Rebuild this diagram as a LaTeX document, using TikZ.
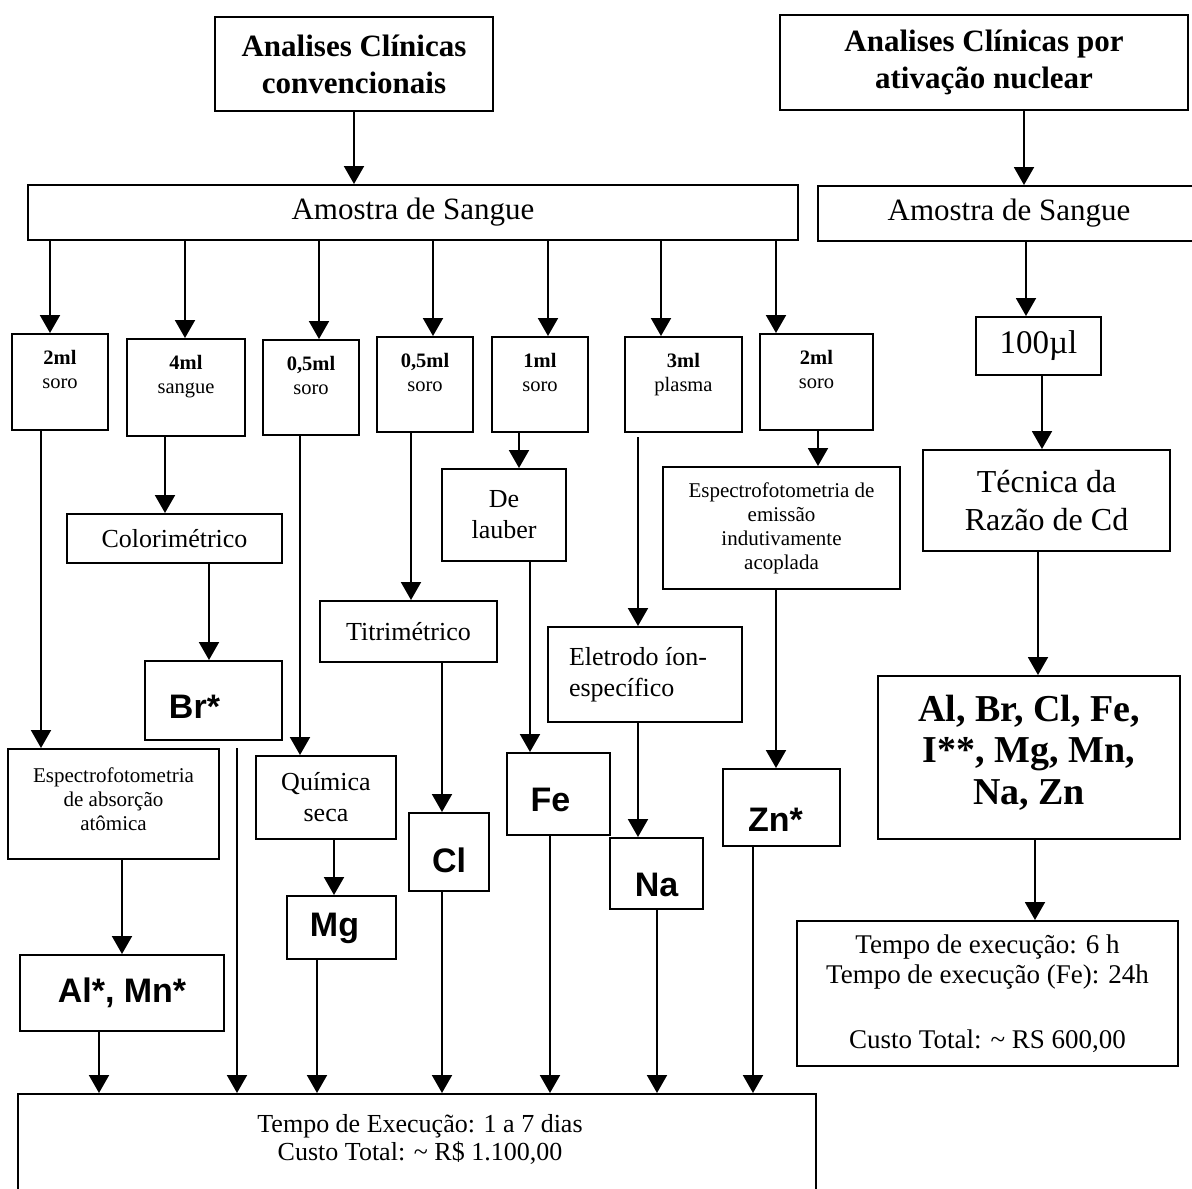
\documentclass[tikz,border=0pt]{standalone}
\usepackage{fontspec}
\setmainfont{Liberation Serif}
\setsansfont{Liberation Sans}
\usetikzlibrary{arrows.meta,calc}
\newcommand\fsz[2]{\fontsize{#1}{#2}\selectfont}
\begin{document}
\begin{tikzpicture}[x=1pt,y=-1pt,
  box/.style={draw, line width=2pt, inner sep=0pt, align=center},
  arr/.style={line width=2pt, -{Triangle[width=20pt,length=18pt]}},
  title/.style={font=\fsz{31}{37}\bfseries},
  big/.style={font=\fsz{31}{38}},
  med/.style={font=\fsz{26}{31}},
  small/.style={font=\fsz{21}{24}},
  elem/.style={font=\fsz{34}{40}\sffamily\bfseries, inner sep=0pt},
  vol/.style={font=\fsz{20.5}{24}, align=center, anchor=north, inner sep=0pt, yshift=-17pt},
  txt/.style={align=center, inner sep=0pt},
]
\useasboundingbox (0,0) rectangle (1192,1189);

% ---- headers and blood samples
\node[box, title, minimum width=278pt, minimum height=94pt] (A1) at (354,64) {Analises Clínicas\\convencionais};
\node[box, title, minimum width=408pt, minimum height=95pt] (N1) at (984,62.5) {Analises Clínicas por\\ativação nuclear};
\node[box, big, minimum width=770pt, minimum height=55pt] (SA) at (413,212.5) {Amostra de Sangue};
\node[box, big, minimum width=382pt, minimum height=55pt] (SB) at (1009,213.5) {Amostra de Sangue};

% ---- sample volumes
\node[box, minimum width=96pt,  minimum height=96pt, label={[vol]north:{\textbf{2ml}\\soro}}]     (s1) at (60,382) {};
\node[box, minimum width=118pt, minimum height=97pt, label={[vol]north:{\textbf{4ml}\\sangue}}]   (s2) at (186,387.5) {};
\node[box, minimum width=96pt,  minimum height=95pt, label={[vol]north:{\textbf{0,5ml}\\soro}}]   (s3) at (311,387.5) {};
\node[box, minimum width=96pt,  minimum height=95pt, label={[vol]north:{\textbf{0,5ml}\\soro}}]   (s4) at (425,384.5) {};
\node[box, minimum width=96pt,  minimum height=95pt, label={[vol]north:{\textbf{1ml}\\soro}}]     (s5) at (540,384.5) {};
\node[box, minimum width=117pt, minimum height=95pt, label={[vol]north:{\textbf{3ml}\\plasma}}]   (s6) at (683.5,384.5) {};
\node[box, minimum width=113pt, minimum height=96pt, label={[vol]north:{\textbf{2ml}\\soro}}]     (s7) at (816.5,382) {};

% ---- methods
\node[box, minimum width=211pt, minimum height=110pt, label={[txt, small, yshift=5pt]center:{Espectrofotometria\\de absorção\\atômica}}] (EAA) at (113.5,804) {};
\node[box, med, minimum width=215pt, minimum height=49pt] (Col) at (174.5,538.5) {Colorimétrico};
\node[box, med, minimum width=140pt, minimum height=83pt] (Quim) at (326,797.5) {Química\\seca};
\node[box, med, minimum width=177pt, minimum height=61pt] (Titr) at (408.5,631.5) {Titrimétrico};
\node[box, med, minimum width=124pt, minimum height=92pt] (Lau) at (504,515) {De\\lauber};
\node[box, minimum width=194pt, minimum height=95pt, label={[txt, med, align=left, xshift=-7pt]center:{Eletrodo íon-\\específico}}] (Elet) at (645,674.5) {};
\node[box, small, minimum width=237pt, minimum height=122pt] (EEI) at (781.5,528) {Espectrofotometria de\\emissão\\indutivamente\\acoplada};

% ---- elements
\node[box, minimum width=204pt, minimum height=76pt, label={[elem]center:{Al*, Mn*}}] (AlMn) at (122,993) {};
\node[box, minimum width=137pt, minimum height=79pt, label={[elem, xshift=-19pt, yshift=-6pt]center:{Br*}}] (Br) at (213.5,700.5) {};
\node[box, minimum width=109pt, minimum height=63pt, label={[elem, xshift=-7pt, yshift=-1pt]center:{Mg}}] (Mg) at (341.5,927.5) {};
\node[box, minimum width=80pt,  minimum height=78pt, label={[elem, yshift=-8pt]center:{Cl}}] (Cl) at (449,852) {};
\node[box, minimum width=103pt, minimum height=82pt, label={[elem, xshift=-8pt, yshift=-6pt]center:{Fe}}] (Fe) at (558.5,794) {};
\node[box, minimum width=93pt,  minimum height=71pt, label={[elem, yshift=-11pt]center:{Na}}] (Na) at (656.5,873.5) {};
\node[box, minimum width=117pt, minimum height=77pt, label={[elem, xshift=-6pt, yshift=-12pt]center:{Zn*}}] (Zn) at (781.5,807.5) {};

% ---- totals of the conventional route (box runs off the lower edge)
\node[box, minimum width=798pt, minimum height=130pt,
  label={[txt, font=\fsz{26}{28}, xshift=3pt, yshift=20pt]center:{Tempo de Execução: 1 a 7 dias\\Custo Total: \textasciitilde{} R\$ 1.100,00}}] (Bot) at (417,1159) {};

% ---- nuclear activation route
\node[box, font=\fsz{33}{38}, minimum width=125pt, minimum height=58pt] (Hun) at (1038.5,346) {100µl};
\node[box, font=\fsz{32}{38}, minimum width=247pt, minimum height=101pt] (Tec) at (1046.5,500.5) {Técnica da\\Razão de Cd};
\node[box, minimum width=302pt, minimum height=163pt, label={[txt, font=\fsz{38}{41.5}\bfseries, yshift=5pt]center:{Al, Br, Cl, Fe,\\I**, Mg, Mn,\\Na, Zn}}] (Res) at (1029,757.5) {};
\node[box, font=\fsz{27}{30}, minimum width=381pt, minimum height=145pt] (Tempo) at (987.5,993.5)
  {Tempo de execução: 6 h\\Tempo de execução (Fe): 24h\\[35pt]Custo Total: \textasciitilde{} RS 600,00};

% ---- connector columns
\coordinate (c1) at (50,0);  \coordinate (c2) at (185,0); \coordinate (c3) at (319,0);
\coordinate (c4) at (433,0); \coordinate (c5) at (548,0); \coordinate (c6) at (661,0);
\coordinate (c7) at (776,0);
\coordinate (d1) at (41,0);  \coordinate (d2) at (165,0); \coordinate (d3) at (300,0);
\coordinate (d4) at (411,0); \coordinate (d5) at (519,0); \coordinate (d6) at (638,0);
\coordinate (d7) at (818,0);
\coordinate (e1) at (122,0); \coordinate (e2) at (209,0); \coordinate (e3) at (334,0);
\coordinate (e4) at (442,0); \coordinate (e5) at (530,0); \coordinate (e7) at (776,0);
\coordinate (f1) at (99,0);  \coordinate (f2) at (237,0); \coordinate (f3) at (317,0);
\coordinate (f4) at (442,0); \coordinate (f5) at (550,0); \coordinate (f6) at (657,0);
\coordinate (f7) at (753,0);
\coordinate (g0) at (1024,0); \coordinate (g1) at (1026,0); \coordinate (g2) at (1042,0);
\coordinate (g3) at (1038,0); \coordinate (g4) at (1035,0);

% ---- connectors
\draw[arr] (A1.south) -- (A1.south |- SA.north);
\draw[arr] (N1.south -| g0) -- (SB.north -| g0);
\foreach \c/\b in {c1/s1,c2/s2,c3/s3,c4/s4,c5/s5,c6/s6,c7/s7}
  \draw[arr] (SA.south -| \c) -- (\b.north -| \c);

\draw[arr] (s1.south -| d1) -- (EAA.north -| d1);
\draw[arr] (s2.south -| d2) -- (Col.north -| d2);
\draw[arr] (s3.south -| d3) -- (Quim.north -| d3);
\draw[arr] (s4.south -| d4) -- (Titr.north -| d4);
\draw[arr] (s5.south -| d5) -- (Lau.north -| d5);
\draw[arr, shorten <=4pt] (s6.south -| d6) -- (Elet.north -| d6);
\draw[arr] (s7.south -| d7) -- (EEI.north -| d7);

\draw[arr] (EAA.south -| e1) -- (AlMn.north -| e1);
\draw[arr] (Col.south -| e2) -- (Br.north -| e2);
\draw[arr] (Quim.south -| e3) -- (Mg.north -| e3);
\draw[arr] (Titr.south -| e4) -- (Cl.north -| e4);
\draw[arr] (Lau.south -| e5) -- (Fe.north -| e5);
\draw[arr] (Elet.south -| d6) -- (Na.north -| d6);
\draw[arr] (EEI.south -| e7) -- (Zn.north -| e7);

\draw[arr] (AlMn.south -| f1) -- (Bot.north -| f1);
\draw[arr, shorten <=7pt] (Br.south -| f2) -- (Bot.north -| f2);
\draw[arr] (Mg.south -| f3) -- (Bot.north -| f3);
\draw[arr] (Cl.south -| f4) -- (Bot.north -| f4);
\draw[arr] (Fe.south -| f5) -- (Bot.north -| f5);
\draw[arr] (Na.south -| f6) -- (Bot.north -| f6);
\draw[arr] (Zn.south -| f7) -- (Bot.north -| f7);

\draw[arr] (SB.south -| g1) -- (Hun.north -| g1);
\draw[arr] (Hun.south -| g2) -- (Tec.north -| g2);
\draw[arr] (Tec.south -| g3) -- (Res.north -| g3);
\draw[arr] (Res.south -| g4) -- (Tempo.north -| g4);
\end{tikzpicture}
\end{document}
